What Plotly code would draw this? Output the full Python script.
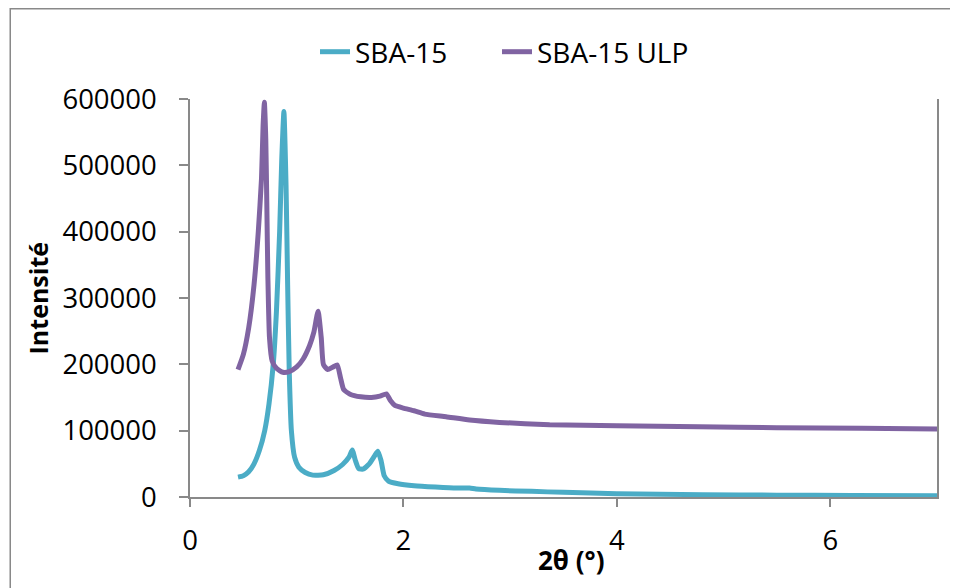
import plotly.graph_objects as go

# SBA-15 (cyan)
x_sba = [0.45, 0.50, 0.55, 0.60, 0.65, 0.70, 0.74, 0.78, 0.81, 0.84, 0.86, 0.88, 0.90, 0.915, 0.93, 0.95, 0.98,
         1.02, 1.08, 1.15, 1.25, 1.35, 1.43, 1.49, 1.52, 1.55, 1.58, 1.62, 1.68, 1.73, 1.76, 1.79, 1.82, 1.86,
         1.95, 2.1, 2.3, 2.5, 2.62, 2.68, 2.9, 3.2, 3.5, 4.0, 4.8, 5.5, 6.2, 7.0]
y_sba = [30000, 32000, 38000, 50000, 70000, 100000, 140000, 200000, 280000, 400000, 510000, 581000, 470000, 320000,
         190000, 100000, 60000, 45000, 37000, 33000, 33500, 40000, 49000, 60000, 71000, 55000, 43000, 42000, 50000,
         62000, 69000, 55000, 32000, 24000, 20000, 17000, 15000, 13500, 13500, 12000, 10000, 8500, 7000, 5000,
         3500, 2800, 2300, 2000]

# SBA-15 ULP (purple)
x_ulp = [0.45, 0.50, 0.55, 0.60, 0.64, 0.67, 0.685, 0.697, 0.71, 0.72, 0.73, 0.745, 0.77, 0.81, 0.87, 0.93, 1.00,
         1.06, 1.12, 1.16, 1.20, 1.23, 1.25, 1.29, 1.34, 1.38, 1.41, 1.44, 1.50, 1.60, 1.70, 1.78, 1.84, 1.88,
         1.92, 2.0, 2.1, 2.2, 2.4, 2.62, 2.9, 3.37, 4.0, 4.77, 5.5, 6.3, 7.0]
y_ulp = [192000, 215000, 255000, 320000, 400000, 480000, 560000, 595000, 540000, 440000, 330000, 240000, 205000,
         194000, 188000, 189000, 196000, 208000, 228000, 248000, 280000, 240000, 200000, 192000, 196000, 199000,
         180000, 162000, 155000, 151000, 150000, 152000, 155500, 145000, 138000, 134000, 130000, 125000, 121000,
         116000, 112500, 109000, 107500, 106000, 104500, 103500, 102500]

x_ticks = [0, 2, 4, 6]
y_ticks = [0, 100000, 200000, 300000, 400000, 500000, 600000]

FONT = "Open Sans"
GRAY = "#898989"

# page is rendered with an 8px body margin: work in figure coordinates
OFF = 8
W, H = 958, 588
PL, PR, PT, PB = 189.5 - OFF, 937.5 - OFF, 99.3 - OFF, 497.3 - OFF
PW, PH = PR - PL, PB - PT


def px(xp):
    return (xp - OFF - PL) / PW


def py(yp):
    return (PB - (yp - OFF)) / PH


fig = go.Figure()
fig.add_trace(go.Scatter(x=x_sba, y=y_sba, mode="lines", name="SBA-15", legend="legend",
                         line=dict(color="#4BACC6", width=5, shape="spline", smoothing=0.5)))
fig.add_trace(go.Scatter(x=x_ulp, y=y_ulp, mode="lines", name="SBA-15 ULP", legend="legend2",
                         line=dict(color="#8064A2", width=5, shape="spline", smoothing=0.5)))

leg_common = dict(orientation="h", xref="container", yref="container", y=1 - (52 - OFF) / H,
                  xanchor="left", yanchor="middle", font=dict(size=28), bgcolor="rgba(0,0,0,0)")

fig.update_layout(
    width=W, height=H,
    margin=dict(l=PL, r=W - PR, t=PT, b=H - PB, autoexpand=False),
    paper_bgcolor="white", plot_bgcolor="white",
    font=dict(family=FONT, size=27, color="black"),
    showlegend=True,
    legend=dict(x=(315 - OFF) / W, **leg_common),
    legend2=dict(x=(497 - OFF) / W, **leg_common),
    xaxis=dict(range=[0, 7], tickvals=x_ticks, showgrid=False, zeroline=False, showline=True,
               linecolor=GRAY, linewidth=1.5, ticks="outside", ticklen=8, tickcolor=GRAY, tickwidth=1.5,
               ticklabelstandoff=10, tickfont=dict(size=27.5), automargin=False),
    yaxis=dict(range=[0, 600000], tickvals=y_ticks, tickformat="d", showgrid=False, zeroline=False,
               showline=True, mirror=True, linecolor=GRAY, linewidth=1.5, ticks="outside", ticklen=9,
               tickcolor=GRAY, tickwidth=1.5, ticklabelstandoff=17, tickfont=dict(size=27.5), automargin=False),
    annotations=[
        dict(text="<b>Intensité</b>", xref="paper", yref="paper", x=px(37), y=py(299),
             textangle=-90, showarrow=False, font=dict(size=25), xanchor="center", yanchor="middle"),
        dict(text="<b>2θ (°)</b>", xref="paper", yref="paper", x=px(571), y=py(560),
             showarrow=False, font=dict(size=26), xanchor="center", yanchor="middle"),
    ],
    shapes=[
        dict(type="rect", xref="paper", yref="paper", x0=px(9.5), x1=px(990),
             y0=py(620), y1=py(9), line=dict(color=GRAY, width=1.5),
             fillcolor="rgba(0,0,0,0)", layer="below"),
    ],
)

fig.write_html("out.html")
